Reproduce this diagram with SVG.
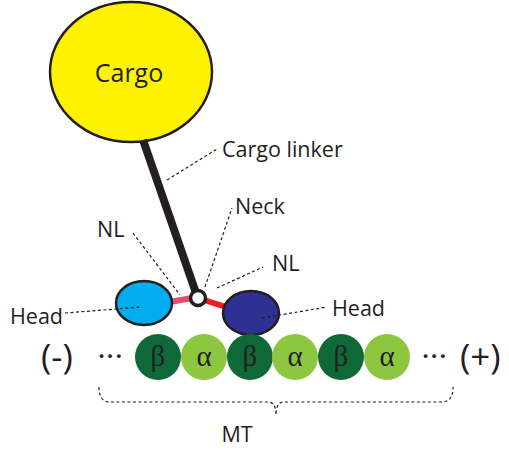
<svg xmlns="http://www.w3.org/2000/svg" width="509" height="454" viewBox="0 0 509 454">
  <style>
    .lbl { font-family: "Open Sans", "Liberation Sans", sans-serif; font-size: 21.5px; fill: #231f20; }
    .big { font-size: 25px; }
    .lead { fill: none; stroke: #231f20; stroke-width: 1.2; stroke-dasharray: 3 2.5; }
    .greek { font-family: "Liberation Serif", "DejaVu Serif", serif; font-size: 29px; fill: #231f20; text-anchor: middle; }
    .beta { fill: #0e6838; }
    .alpha { fill: #8dc63f; }
    .dots { font-family: "Open Sans", "Liberation Sans", sans-serif; font-size: 26px; font-weight: 600; letter-spacing: 1.5px; fill: #231f20; }
    .end { font-family: "Open Sans", "Liberation Sans", sans-serif; font-size: 35px; fill: #231f20; }
  </style>

  <!-- cargo -->
  <g id="cargo">
    <ellipse cx="131" cy="72" rx="81" ry="70" fill="#fff200" stroke="#231f20" stroke-width="2.5"/>
    <text class="lbl big" x="129" y="82" text-anchor="middle">Cargo</text>
  </g>

  <!-- stalk and neck linkers -->
  <g id="linkers">
    <line x1="143" y1="140" x2="196" y2="293" stroke="#231f20" stroke-width="8"/>
    <line x1="170" y1="302" x2="192" y2="298" stroke="#e0506e" stroke-width="6"/>
    <line x1="204" y1="300" x2="226" y2="307" stroke="#ee1c25" stroke-width="6"/>
  </g>

  <!-- motor heads -->
  <g id="head-left">
    <ellipse cx="144" cy="303" rx="28" ry="22" fill="#00aeef" stroke="#231f20" stroke-width="2.5"/>
  </g>
  <g id="head-right">
    <ellipse cx="251" cy="313" rx="28" ry="22" fill="#2e3192" stroke="#231f20" stroke-width="2.5"/>
  </g>
  <g id="neck">
    <circle cx="198" cy="298" r="7.5" fill="#ffffff" stroke="#231f20" stroke-width="3.5"/>
  </g>

  <!-- microtubule -->
  <g id="microtubule">
    <circle class="beta" cx="158" cy="357" r="23"/>
    <circle class="alpha" cx="204" cy="357" r="23"/>
    <circle class="beta" cx="250" cy="357" r="23"/>
    <circle class="alpha" cx="295" cy="357" r="23"/>
    <circle class="beta" cx="341" cy="357" r="23"/>
    <circle class="alpha" cx="387" cy="357" r="23"/>
    <text class="greek" x="158" y="366">β</text>
    <text class="greek" x="204" y="366">α</text>
    <text class="greek" x="250" y="366">β</text>
    <text class="greek" x="295" y="366">α</text>
    <text class="greek" x="341" y="366">β</text>
    <text class="greek" x="387" y="366">α</text>
    <text class="dots" x="98" y="365">···</text>
    <text class="dots" x="422" y="365">···</text>
    <text class="end" x="41" y="369">(-)</text>
    <text class="end" x="460" y="369">(+)</text>
    <path class="lead" d="M99 387 Q99 402 110 402 L270 402 Q276 404 276 415 Q276 404 282 402 L442 402 Q453 402 453 387"/>
    <text class="lbl" x="237" y="442" text-anchor="middle">MT</text>
  </g>

  <!-- callouts -->
  <g id="callouts">
    <path class="lead" d="M167 180 L217 149"/>
    <text class="lbl" x="222" y="157">Cargo linker</text>
    <path class="lead" d="M205 287 L232 208"/>
    <text class="lbl" x="235" y="214">Neck</text>
    <path class="lead" d="M133 233 L180 295"/>
    <text class="lbl" x="97" y="237">NL</text>
    <path class="lead" d="M217 288 L263 267"/>
    <text class="lbl" x="272" y="271">NL</text>
    <path class="lead" d="M65 313 L142 307"/>
    <text class="lbl" x="10" y="324">Head</text>
    <path class="lead" d="M262 318 L327 307"/>
    <text class="lbl" x="332" y="316">Head</text>
  </g>
</svg>
